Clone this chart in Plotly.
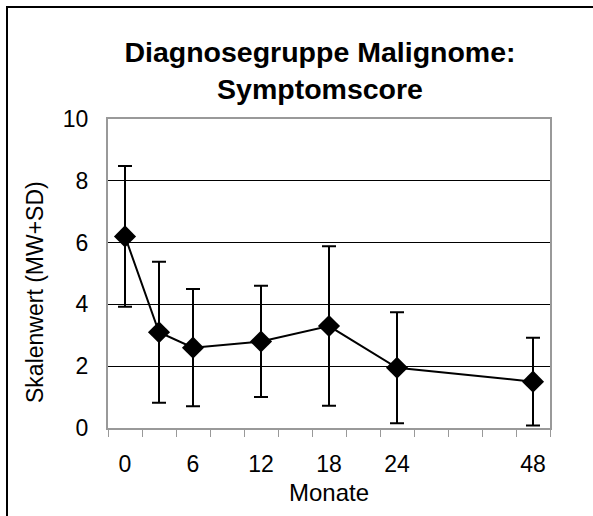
import plotly.graph_objects as go

# category slots on the x axis (Excel-style category axis)
slot_labels = ["0", "3", "6", "9", "12", "15", "18", "21", "24", "30", "36", "42", "48"]
shown_labels = ["0", "6", "12", "18", "24", "48"]

months = ["0", "3", "6", "12", "18", "24", "48"]
mean_values = [6.2, 3.1, 2.6, 2.8, 3.3, 1.95, 1.5]
sd_values = [2.28, 2.28, 1.9, 1.8, 2.58, 1.8, 1.42]

x_pos = [slot_labels.index(m) for m in months]
tick_pos = [slot_labels.index(t) for t in shown_labels]

FONT = "Liberation Sans, Arial, sans-serif"

fig = go.Figure()
fig.add_trace(go.Scatter(
    x=x_pos, y=mean_values,
    mode="lines+markers",
    line=dict(color="black", width=2),
    marker=dict(symbol="diamond", size=17, color="black"),
    error_y=dict(type="data", array=sd_values, visible=True,
                 color="black", thickness=2, width=7),
    showlegend=False,
))

W, H = 593, 516
L, R, T, B = 108, 43, 119, 88
pw, ph = W - L - R, H - T - B

def px_to_paper_x(px):
    return (px - L) / pw

def px_to_paper_y(py):
    return (H - B - py) / ph

fig.update_layout(
    width=W, height=H,
    margin=dict(l=L, r=R, t=T, b=B),
    paper_bgcolor="white", plot_bgcolor="white",
    font=dict(family=FONT, size=23, color="black"),
    title=dict(
        text="<b>Diagnosegruppe Malignome:<br>Symptomscore</b>",
        x=px_to_paper_x(320), xref="paper", xanchor="center",
        y=1 - 62 / H, yanchor="middle",
        font=dict(family=FONT, size=28.5, color="black"),
    ),
    xaxis=dict(
        range=[-0.5, 12.5],
        tickmode="array", tickvals=tick_pos, ticktext=shown_labels,
        ticks="", showgrid=False, zeroline=False,
        showline=True, linecolor="#999999", linewidth=2, mirror=True,
        ticklabelstandoff=14,
        tickfont=dict(size=23),
        minor=dict(tick0=-0.5, dtick=1, ticks="outside", ticklen=7,
                   tickcolor="#999999", tickwidth=1, showgrid=False),
        title=dict(text="Monate", standoff=9, font=dict(size=24)),
        fixedrange=True,
    ),
    yaxis=dict(
        range=[0, 10], tickmode="linear", tick0=0, dtick=2,
        showgrid=True, gridcolor="black", gridwidth=1,
        zeroline=False, ticks="",
        showline=True, linecolor="#999999", linewidth=2, mirror=True,
        ticklabelstandoff=13,
        tickfont=dict(size=23),
        fixedrange=True,
    ),
    annotations=[dict(
        text="Skalenwert (MW+SD)", textangle=-90,
        xref="paper", yref="paper",
        x=px_to_paper_x(35), y=px_to_paper_y(292),
        xanchor="center", yanchor="middle", showarrow=False,
        font=dict(family=FONT, size=23, color="black"),
    )],
    shapes=[
        dict(type="line", xref="paper", yref="paper",
             x0=px_to_paper_x(7), y0=px_to_paper_y(7),
             x1=px_to_paper_x(W + 20), y1=px_to_paper_y(7),
             line=dict(color="black", width=2), layer="below"),
        dict(type="line", xref="paper", yref="paper",
             x0=px_to_paper_x(7), y0=px_to_paper_y(6),
             x1=px_to_paper_x(7), y1=px_to_paper_y(H + 20),
             line=dict(color="black", width=2), layer="below"),
    ],
)

fig.write_html("out.html")
